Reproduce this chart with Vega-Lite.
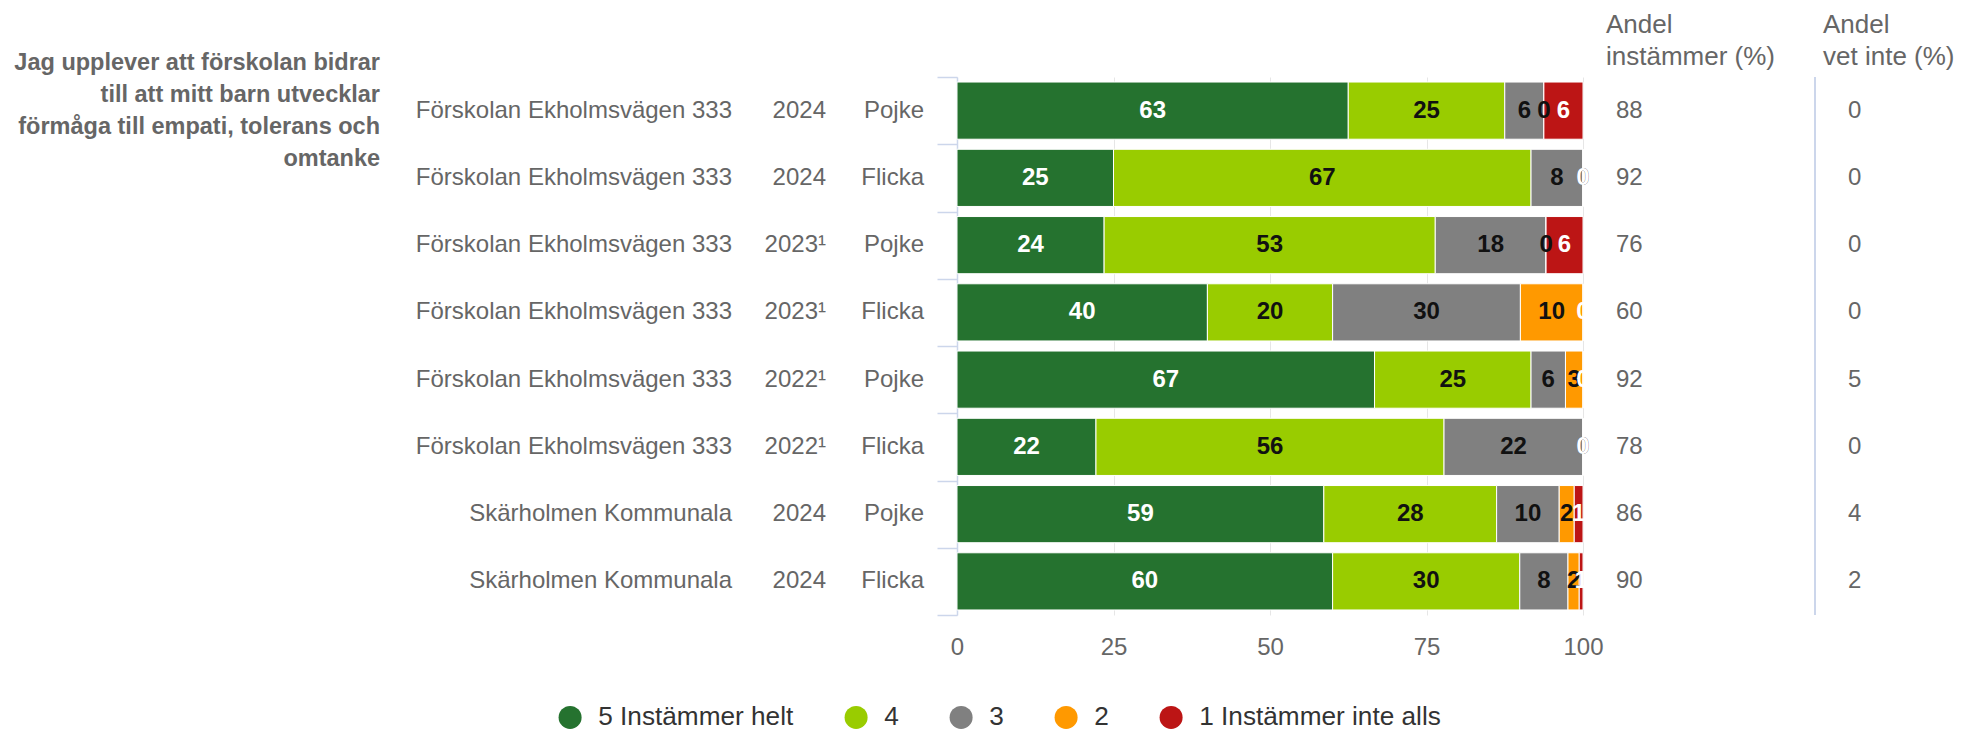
{
  "$schema": "https://vega.github.io/schema/vega-lite/v6.json",
  "width": 626,
  "height": 538,
  "autosize": {"type": "none"},
  "padding": {"left": 957, "top": 77, "right": 379, "bottom": 117},
  "background": "white",
  "config": {"font": "Liberation Sans", "view": {"stroke": null}},
  "datasets": {
    "svar": [
      {"rad": 1, "kod": 5, "svar": "5 Instämmer helt", "andel": 62.5},
      {"rad": 1, "kod": 4, "svar": "4", "andel": 25},
      {"rad": 1, "kod": 3, "svar": "3", "andel": 6.25},
      {"rad": 1, "kod": 2, "svar": "2", "andel": 0},
      {"rad": 1, "kod": 1, "svar": "1 Instämmer inte alls", "andel": 6.25},
      {"rad": 2, "kod": 5, "svar": "5 Instämmer helt", "andel": 25},
      {"rad": 2, "kod": 4, "svar": "4", "andel": 66.7},
      {"rad": 2, "kod": 3, "svar": "3", "andel": 8.3},
      {"rad": 2, "kod": 2, "svar": "2", "andel": 0},
      {"rad": 2, "kod": 1, "svar": "1 Instämmer inte alls", "andel": 0},
      {"rad": 3, "kod": 5, "svar": "5 Instämmer helt", "andel": 23.5},
      {"rad": 3, "kod": 4, "svar": "4", "andel": 52.9},
      {"rad": 3, "kod": 3, "svar": "3", "andel": 17.7},
      {"rad": 3, "kod": 2, "svar": "2", "andel": 0},
      {"rad": 3, "kod": 1, "svar": "1 Instämmer inte alls", "andel": 5.9},
      {"rad": 4, "kod": 5, "svar": "5 Instämmer helt", "andel": 40},
      {"rad": 4, "kod": 4, "svar": "4", "andel": 20},
      {"rad": 4, "kod": 3, "svar": "3", "andel": 30},
      {"rad": 4, "kod": 2, "svar": "2", "andel": 10},
      {"rad": 4, "kod": 1, "svar": "1 Instämmer inte alls", "andel": 0},
      {"rad": 5, "kod": 5, "svar": "5 Instämmer helt", "andel": 66.7},
      {"rad": 5, "kod": 4, "svar": "4", "andel": 25},
      {"rad": 5, "kod": 3, "svar": "3", "andel": 5.5},
      {"rad": 5, "kod": 2, "svar": "2", "andel": 2.8},
      {"rad": 5, "kod": 1, "svar": "1 Instämmer inte alls", "andel": 0},
      {"rad": 6, "kod": 5, "svar": "5 Instämmer helt", "andel": 22.2},
      {"rad": 6, "kod": 4, "svar": "4", "andel": 55.6},
      {"rad": 6, "kod": 3, "svar": "3", "andel": 22.2},
      {"rad": 6, "kod": 2, "svar": "2", "andel": 0},
      {"rad": 6, "kod": 1, "svar": "1 Instämmer inte alls", "andel": 0},
      {"rad": 7, "kod": 5, "svar": "5 Instämmer helt", "andel": 58.6},
      {"rad": 7, "kod": 4, "svar": "4", "andel": 27.6},
      {"rad": 7, "kod": 3, "svar": "3", "andel": 10},
      {"rad": 7, "kod": 2, "svar": "2", "andel": 2.4},
      {"rad": 7, "kod": 1, "svar": "1 Instämmer inte alls", "andel": 1.4},
      {"rad": 8, "kod": 5, "svar": "5 Instämmer helt", "andel": 60},
      {"rad": 8, "kod": 4, "svar": "4", "andel": 29.9},
      {"rad": 8, "kod": 3, "svar": "3", "andel": 7.7},
      {"rad": 8, "kod": 2, "svar": "2", "andel": 1.8},
      {"rad": 8, "kod": 1, "svar": "1 Instämmer inte alls", "andel": 0.6}
    ],
    "rader": [
      {"rad": 1, "skola": "Förskolan Ekholmsvägen 333", "ar": "2024", "kon": "Pojke", "instammer": 88, "vetinte": 0},
      {"rad": 2, "skola": "Förskolan Ekholmsvägen 333", "ar": "2024", "kon": "Flicka", "instammer": 92, "vetinte": 0},
      {"rad": 3, "skola": "Förskolan Ekholmsvägen 333", "ar": "2023¹", "kon": "Pojke", "instammer": 76, "vetinte": 0},
      {"rad": 4, "skola": "Förskolan Ekholmsvägen 333", "ar": "2023¹", "kon": "Flicka", "instammer": 60, "vetinte": 0},
      {"rad": 5, "skola": "Förskolan Ekholmsvägen 333", "ar": "2022¹", "kon": "Pojke", "instammer": 92, "vetinte": 5},
      {"rad": 6, "skola": "Förskolan Ekholmsvägen 333", "ar": "2022¹", "kon": "Flicka", "instammer": 78, "vetinte": 0},
      {"rad": 7, "skola": "Skärholmen Kommunala", "ar": "2024", "kon": "Pojke", "instammer": 86, "vetinte": 4},
      {"rad": 8, "skola": "Skärholmen Kommunala", "ar": "2024", "kon": "Flicka", "instammer": 90, "vetinte": 2}
    ]
  },
  "layer": [
    {
      "data": {"name": "svar"},
      "mark": {"type": "bar", "stroke": "#ffffff", "strokeWidth": 1, "height": {"band": 0.85}},
      "encoding": {
        "x": {
          "field": "andel", "type": "quantitative", "stack": "zero", "title": null,
          "scale": {"domain": [0, 100], "nice": false, "zero": true},
          "axis": {"values": [0, 25, 50, 75, 100], "domain": false, "ticks": false, "grid": true, "gridColor": "#e6e6e6", "gridWidth": 1, "labelFontSize": 24, "labelColor": "#666666", "labelBaseline": "middle", "labelPadding": 32, "labelFlush": false, "labelFont": "Liberation Sans", "title": null}
        },
        "y": {
          "field": "rad", "type": "ordinal", "title": null,
          "scale": {"paddingInner": 0, "paddingOuter": 0},
          "axis": {"labels": false, "ticks": true, "tickBand": "extent", "tickSize": 20, "tickColor": "#ccd6eb", "tickWidth": 1.5, "domainColor": "#ccd6eb", "domainWidth": 1.5, "grid": false, "title": null}
        },
        "color": {
          "field": "svar", "type": "nominal",
          "scale": {"domain": ["5 Instämmer helt", "4", "3", "2", "1 Instämmer inte alls"], "range": ["#25722f", "#99cc00", "#808080", "#ff9900", "#bc1515"]},
          "legend": {"orient": "none", "legendX": -400, "legendY": 627, "direction": "horizontal", "columns": 5, "title": null, "symbolType": "circle", "symbolSize": 530, "symbolStrokeWidth": 0, "labelFontSize": 26.2, "labelColor": "#333333", "labelFont": "Liberation Sans", "labelOffset": 15, "labelLimit": 400, "columnPadding": 49, "padding": 0}
        },
        "order": {"field": "kod", "sort": "descending"}
      }
    },
    {
      "data": {"name": "svar"},
      "mark": {"type": "text", "fontSize": 24, "fontWeight": "bold", "align": "center", "baseline": "middle"},
      "encoding": {
        "x": {"field": "andel", "type": "quantitative", "stack": "zero", "bandPosition": 0.5, "title": null},
        "y": {"field": "rad", "type": "ordinal", "title": null},
        "detail": {"field": "svar", "type": "nominal"},
        "order": {"field": "kod", "sort": "descending"},
        "text": {"field": "andel", "type": "quantitative", "format": ".0f"},
        "color": {"condition": {"test": "datum.kod === 5 || datum.kod === 1", "value": "#ffffff"}, "value": "#111111"}
      }
    },
    {
      "data": {"name": "rader"},
      "mark": {"type": "text", "fontSize": 24, "align": "right", "baseline": "middle", "color": "#666666"},
      "encoding": {
        "x": {"datum": -35.94, "title": null},
        "y": {"field": "rad", "type": "ordinal", "title": null},
        "text": {"field": "skola"}
      }
    },
    {
      "data": {"name": "rader"},
      "mark": {"type": "text", "fontSize": 24, "align": "right", "baseline": "middle", "color": "#666666"},
      "encoding": {
        "x": {"datum": -20.93, "title": null},
        "y": {"field": "rad", "type": "ordinal", "title": null},
        "text": {"field": "ar"}
      }
    },
    {
      "data": {"name": "rader"},
      "mark": {"type": "text", "fontSize": 24, "align": "right", "baseline": "middle", "color": "#666666"},
      "encoding": {
        "x": {"datum": -5.27, "title": null},
        "y": {"field": "rad", "type": "ordinal", "title": null},
        "text": {"field": "kon"}
      }
    },
    {
      "data": {"name": "rader"},
      "mark": {"type": "text", "fontSize": 24, "align": "left", "baseline": "middle", "color": "#666666"},
      "encoding": {
        "x": {"datum": 105.27, "title": null},
        "y": {"field": "rad", "type": "ordinal", "title": null},
        "text": {"field": "instammer"}
      }
    },
    {
      "data": {"name": "rader"},
      "mark": {"type": "text", "fontSize": 24, "align": "left", "baseline": "middle", "color": "#666666"},
      "encoding": {
        "x": {"datum": 142.33, "title": null},
        "y": {"field": "rad", "type": "ordinal", "title": null},
        "text": {"field": "vetinte"}
      }
    },
    {
      "data": {"values": [{"rubrik": "Andel\ninstämmer (%)"}]},
      "mark": {"type": "text", "fontSize": 26, "align": "left", "baseline": "middle", "color": "#666666", "lineBreak": "\n", "lineHeight": 32, "dy": -86},
      "encoding": {
        "x": {"datum": 103.67, "title": null},
        "y": {"datum": 1, "type": "ordinal", "title": null},
        "text": {"field": "rubrik"}
      }
    },
    {
      "data": {"values": [{"rubrik": "Andel\nvet inte (%)"}]},
      "mark": {"type": "text", "fontSize": 26, "align": "left", "baseline": "middle", "color": "#666666", "lineBreak": "\n", "lineHeight": 32, "dy": -86},
      "encoding": {
        "x": {"datum": 138.34, "title": null},
        "y": {"datum": 1, "type": "ordinal", "title": null},
        "text": {"field": "rubrik"}
      }
    },
    {
      "data": {"values": [{"fraga": "Jag upplever att förskolan bidrar\ntill att mitt barn utvecklar\nförmåga till empati, tolerans och\nomtanke"}]},
      "mark": {"type": "text", "fontSize": 23.5, "fontWeight": "bold", "align": "right", "baseline": "middle", "color": "#666666", "lineBreak": "\n", "lineHeight": 32, "dy": -48},
      "encoding": {
        "x": {"datum": -92.17, "title": null},
        "y": {"datum": 1, "type": "ordinal", "title": null},
        "text": {"field": "fraga"}
      }
    },
    {
      "data": {"values": [{}]},
      "mark": {"type": "rule", "color": "#ccd6eb", "strokeWidth": 2},
      "encoding": {
        "x": {"datum": 137.06, "title": null}
      }
    }
  ]
}
